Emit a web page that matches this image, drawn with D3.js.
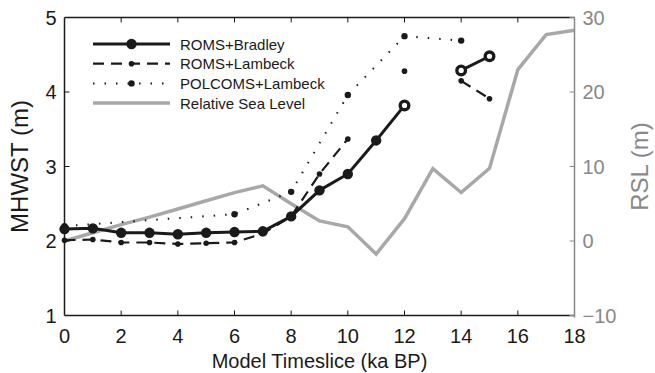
<html>
<head>
  <script src="https://d3js.org/d3.v7.min.js"></script>
  <style>
    body { margin: 0; background: #fff; }
    text { font-family: "Liberation Sans", Arial, Helvetica, sans-serif; }
  </style>
</head>
<body>
  <svg id="plot" width="655" height="373"></svg>
  <script>

    // values
    const timeslices = [0,1,2,3,4,5,6,7,8,9,10,11,12,13,14,15,16,17,18];
    const romsBradley = [2.16,2.17,2.11,2.11,2.09,2.11,2.12,2.13,2.33,2.68,2.90,3.35,3.82,null,4.29,4.48,null,null,null];
    const romsLambeck = [2.01,2.02,1.98,1.98,1.96,1.97,1.98,2.10,2.33,2.90,3.37,null,4.28,null,4.15,3.91,null,null,null];
    const polcomsX = [0,6,8,10,12,14];
    const polcomsLambeck = [2.20,2.36,2.66,3.96,4.75,4.69];
    const rsl = [0,1.1,2.2,3.2,4.3,5.4,6.5,7.4,5.0,2.7,1.9,-1.75,3.0,9.7,6.5,9.75,23.0,27.7,28.3];
    const openMarkers = [12,14,15];   // Bradley points drawn as rings

    const xTicks = [0,2,4,6,8,10,12,14,16,18];
    const yTicks = [1,2,3,4,5];
    const rslTicks = [-10,0,10,20,30];
    const legendNames = ["ROMS+Bradley","ROMS+Lambeck","POLCOMS+Lambeck","Relative Sea Level"];

    const plot = d3.select("svg#plot");
    const margin = { top: 17.5, right: 80.5, bottom: 57.5, left: 64.5 };
    const chartWidth = 655 - margin.left - margin.right;
    const chartHeight = 373 - margin.top - margin.bottom;
    const chartArea = plot.append("g").attr("transform","translate("+margin.left+","+margin.top+")");

    const xScale = d3.scaleLinear().domain([0,18]).range([0, chartWidth]);
    const yScale = d3.scaleLinear().domain([1,5]).range([chartHeight, 0]);
    const rslScale = d3.scaleLinear().domain([-10,30]).range([chartHeight, 0]);

    const black = "#1a1a1a";
    const gray = "#a8a8a8";
    const axisGray = "#888";

    // RSL line (drawn first, underneath)
    const rslLine = d3.line().x((d,i) => xScale(timeslices[i])).y(d => rslScale(d));
    chartArea.append("path").datum(rsl)
             .attr("d", rslLine)
             .attr("fill","none").attr("stroke",gray).attr("stroke-width",3.5)
             .attr("stroke-linejoin","miter");

    // POLCOMS+Lambeck dotted
    const polData = polcomsX.map((x,i) => ({x:x, y:polcomsLambeck[i]}));
    chartArea.append("path").datum(polData)
             .attr("d", d3.line().x(d => xScale(d.x)).y(d => yScale(d.y)))
             .attr("fill","none").attr("stroke",black).attr("stroke-width",2)
             .attr("stroke-dasharray","1.5,10");
    chartArea.selectAll("circle.pol").data(polData)
             .join("circle").attr("class","pol")
             .attr("cx", d => xScale(d.x)).attr("cy", d => yScale(d.y))
             .attr("r", 3.2).attr("fill", black);

    // ROMS+Lambeck dashed
    const lamData = timeslices.map((x,i) => ({x:x, y:romsLambeck[i]}));
    chartArea.append("path").datum(lamData)
             .attr("d", d3.line().defined(d => d.y !== null).x(d => xScale(d.x)).y(d => yScale(d.y)))
             .attr("fill","none").attr("stroke",black).attr("stroke-width",2.2)
             .attr("stroke-dasharray","11,7");
    chartArea.selectAll("circle.lam").data(lamData.filter(d => d.y !== null))
             .join("circle").attr("class","lam")
             .attr("cx", d => xScale(d.x)).attr("cy", d => yScale(d.y))
             .attr("r", 2.8).attr("fill", black);

    // ROMS+Bradley solid
    const bradData = timeslices.map((x,i) => ({x:x, y:romsBradley[i]}));
    chartArea.append("path").datum(bradData)
             .attr("d", d3.line().defined(d => d.y !== null).x(d => xScale(d.x)).y(d => yScale(d.y)))
             .attr("fill","none").attr("stroke",black).attr("stroke-width",3);
    chartArea.selectAll("circle.brad").data(bradData.filter(d => d.y !== null))
             .join("circle").attr("class","brad")
             .attr("cx", d => xScale(d.x)).attr("cy", d => yScale(d.y))
             .attr("r", d => openMarkers.includes(d.x) ? 4.3 : 5.2)
             .attr("fill", d => openMarkers.includes(d.x) ? "#fff" : black)
             .attr("stroke", black)
             .attr("stroke-width", d => openMarkers.includes(d.x) ? 3.4 : 0);

    // axes box: left/bottom/top black, right gray
    const tickLen = 5;
    chartArea.append("line").attr("x1",0).attr("x2",chartWidth).attr("y1",chartHeight).attr("y2",chartHeight)
             .attr("stroke",black).attr("stroke-width",1.5);
    chartArea.append("line").attr("x1",0).attr("x2",chartWidth).attr("y1",0).attr("y2",0)
             .attr("stroke",black).attr("stroke-width",1.5);
    chartArea.append("line").attr("x1",0).attr("x2",0).attr("y1",0).attr("y2",chartHeight)
             .attr("stroke",black).attr("stroke-width",1.5);
    chartArea.append("line").attr("x1",chartWidth).attr("x2",chartWidth).attr("y1",0).attr("y2",chartHeight+2)
             .attr("stroke",axisGray).attr("stroke-width",1.5);

    // x ticks (bottom and top, pointing inward)
    chartArea.selectAll("line.xb").data(xTicks.slice(1,-1)).join("line").attr("class","xb")
             .attr("x1", d => xScale(d)).attr("x2", d => xScale(d))
             .attr("y1", chartHeight).attr("y2", chartHeight - tickLen)
             .attr("stroke",black).attr("stroke-width",1);
    chartArea.selectAll("line.xt").data(xTicks.slice(1,-1)).join("line").attr("class","xt")
             .attr("x1", d => xScale(d)).attr("x2", d => xScale(d))
             .attr("y1", 0).attr("y2", tickLen)
             .attr("stroke",black).attr("stroke-width",1);
    chartArea.selectAll("text.xl").data(xTicks).join("text").attr("class","xl")
             .attr("x", d => xScale(d)).attr("y", chartHeight + 27)
             .attr("text-anchor","middle").attr("font-size",20).attr("fill",black)
             .text(d => d);

    // left y ticks
    chartArea.selectAll("line.yl").data(yTicks.slice(1,-1)).join("line").attr("class","yl")
             .attr("x1", 0).attr("x2", tickLen)
             .attr("y1", d => yScale(d)).attr("y2", d => yScale(d))
             .attr("stroke",black).attr("stroke-width",1);
    chartArea.selectAll("text.ylab").data(yTicks).join("text").attr("class","ylab")
             .attr("x", -8).attr("y", d => yScale(d) + 7)
             .attr("text-anchor","end").attr("font-size",20).attr("fill",black)
             .text(d => d);

    // right RSL ticks
    chartArea.selectAll("line.yr").data(rslTicks).join("line").attr("class","yr")
             .attr("x1", chartWidth).attr("x2", chartWidth - tickLen)
             .attr("y1", d => rslScale(d)).attr("y2", d => rslScale(d))
             .attr("stroke",axisGray).attr("stroke-width",1);
    chartArea.selectAll("text.rlab").data(rslTicks).join("text").attr("class","rlab")
             .attr("x", chartWidth + 8).attr("y", d => rslScale(d) + 7)
             .attr("text-anchor","start").attr("font-size",20).attr("fill",axisGray)
             .text(d => d < 0 ? "\u2212" + Math.abs(d) : d);

    // axis titles
    plot.append("text").attr("transform","translate(28,"+(margin.top + chartHeight/2)+") rotate(-90)")
        .attr("text-anchor","middle").attr("font-size",24).attr("fill",black)
        .text("MHWST (m)");
    plot.append("text").attr("transform","translate(648,"+(margin.top + chartHeight/2)+") rotate(-90)")
        .attr("text-anchor","middle").attr("font-size",24).attr("fill",axisGray)
        .text("RSL (m)");
    plot.append("text").attr("x", margin.left + chartWidth/2).attr("y", 368)
        .attr("text-anchor","middle").attr("font-size",20).attr("fill",black)
        .text("Model Timeslice (ka BP)");

    // legend
    const legend = plot.append("g").attr("transform","translate(93,44)");
    const rowGap = 19.7;
    const styles = [
      { stroke: black, width: 3, dash: null, r: 5.2 },
      { stroke: black, width: 2.2, dash: "11,7", r: 2.8 },
      { stroke: black, width: 2, dash: "1.5,10", r: 3.2 },
      { stroke: gray, width: 3.5, dash: null, r: 0 }
    ];
    legendNames.forEach((name, i) => {
      const row = legend.append("g").attr("transform","translate(0,"+(i*rowGap)+")");
      row.append("line").attr("x1",0).attr("x2",77).attr("y1",0).attr("y2",0)
         .attr("stroke",styles[i].stroke).attr("stroke-width",styles[i].width)
         .attr("stroke-dasharray",styles[i].dash);
      if (styles[i].r > 0) {
        row.append("circle").attr("cx",38.5).attr("cy",0).attr("r",styles[i].r).attr("fill",black);
      }
      row.append("text").attr("x",87).attr("y",5.5).attr("font-size",15).attr("fill",black).text(name);
    });

  </script>
</body>
</html>
